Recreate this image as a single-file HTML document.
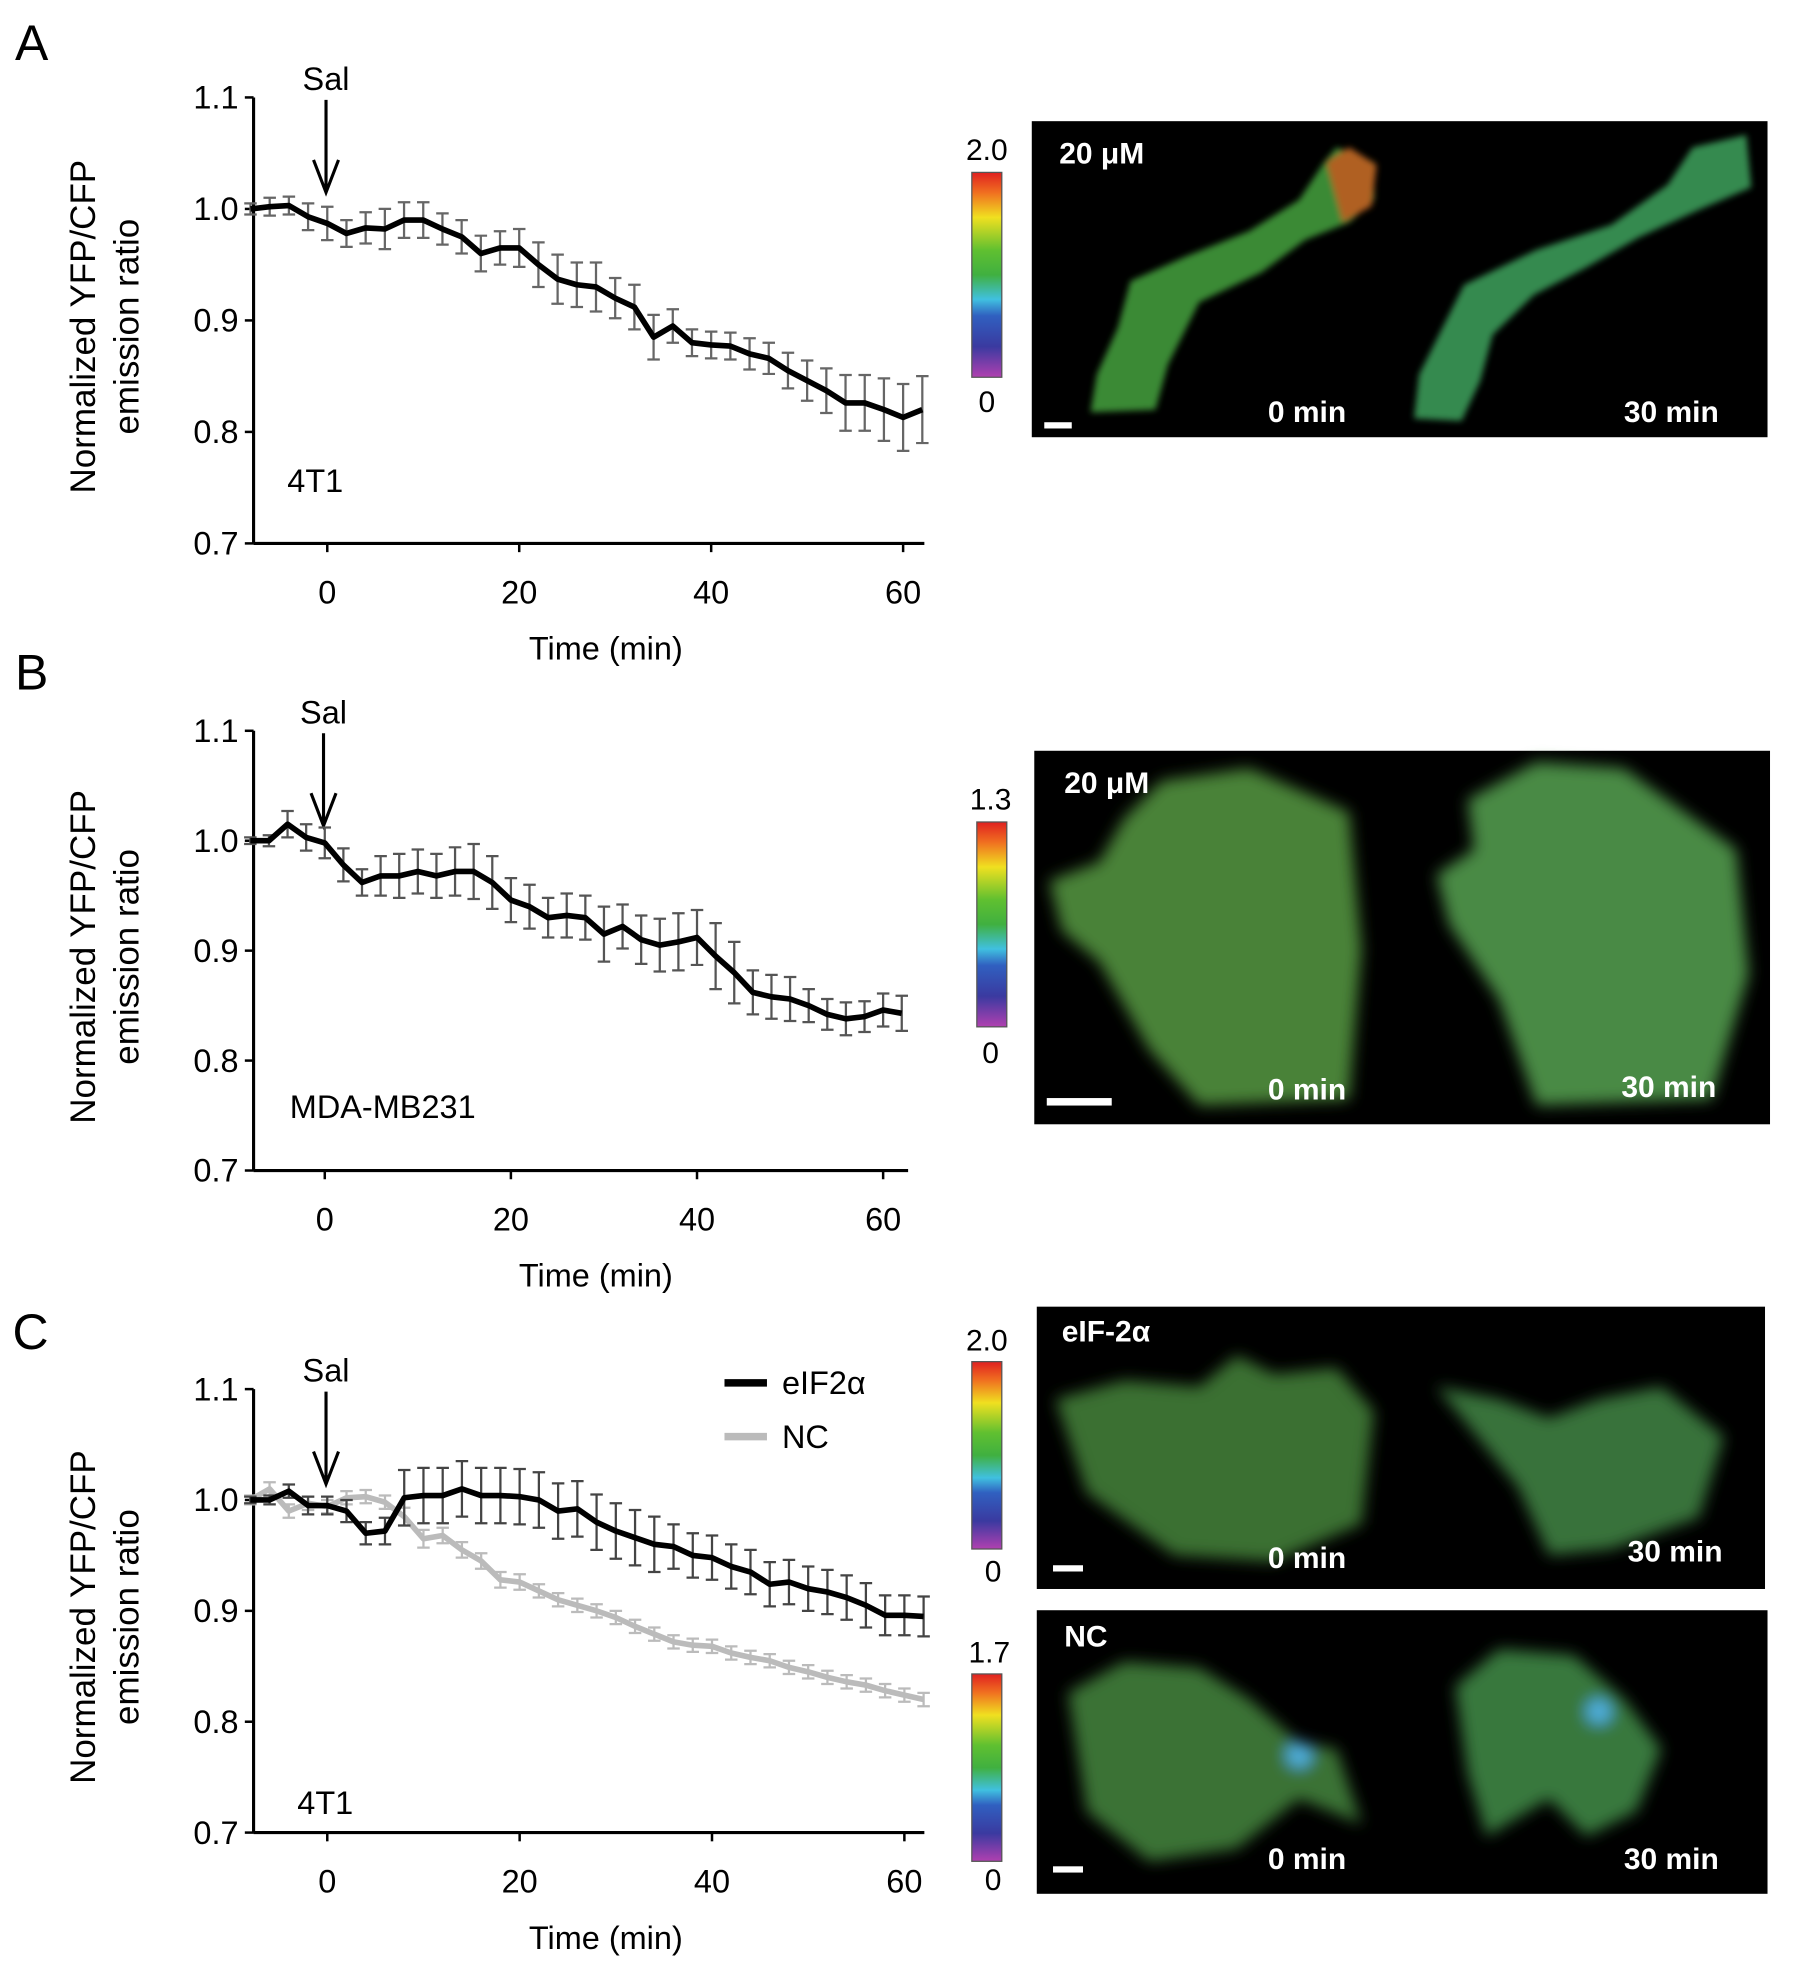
<!DOCTYPE html>
<html><head><meta charset="utf-8"><style>
html,body{margin:0;padding:0;background:#fff;}
svg{display:block;font-family:"Liberation Sans Narrow","Liberation Sans",sans-serif;}
.wt{fill:#fff;font-family:"Liberation Sans",sans-serif;font-weight:bold;}
</style></head><body>
<svg id="fig" width="1795" height="1970" viewBox="0 0 1437 1577" preserveAspectRatio="none" xmlns="http://www.w3.org/2000/svg">
<defs>
<linearGradient id="rb" x1="0" y1="1" x2="0" y2="0">
<stop offset="0" stop-color="#b040b0"/><stop offset="0.15" stop-color="#3a3aa0"/><stop offset="0.3" stop-color="#3060c0"/><stop offset="0.38" stop-color="#40c0e0"/><stop offset="0.5" stop-color="#40b040"/><stop offset="0.62" stop-color="#60c030"/><stop offset="0.78" stop-color="#f0e020"/><stop offset="0.9" stop-color="#f07020"/><stop offset="1" stop-color="#e02020"/>
</linearGradient>
<filter id="bl"><feGaussianBlur stdDeviation="2.5"/></filter>
<filter id="bl2"><feGaussianBlur stdDeviation="6"/></filter>
</defs>
<g id="charts"></g>
<g>
<rect x="826" y="97" width="589" height="253" fill="#000"/>
<g filter="url(#bl)">
<path d="M873,330 L878,300 L895,262 L905,225 L950,205 L1000,185 L1040,160 L1060,130 L1070,118 L1100,130 L1100,160 L1080,178 L1045,192 L1010,218 L960,242 L935,292 L925,328 Z" fill="#3b8a36"/>
<path d="M1062,130 L1080,118 L1102,132 L1098,165 L1075,178 Z" fill="#b06020"/>
<path d="M1132,335 L1136,300 L1155,262 L1172,228 L1230,200 L1290,180 L1335,148 L1355,118 L1398,108 L1402,150 L1360,168 L1312,190 L1270,214 L1228,236 L1195,268 L1185,305 L1170,337 Z" fill="#358a50"/>
</g>
<text class="wt" x="848" y="131" font-size="24">20 μM</text>
<text class="wt" x="1015" y="338" font-size="24">0 min</text>
<text class="wt" x="1300" y="338" font-size="24">30 min</text>
<rect x="836" y="338" width="22" height="5" fill="#fff"/>
<rect x="778" y="138" width="24" height="164" fill="url(#rb)" stroke="#555" stroke-width="1"/>
<text x="790" y="128" font-size="24" text-anchor="middle">2.0</text>
<text x="790" y="330" font-size="24" text-anchor="middle">0</text>
</g>
<g>
<rect x="828" y="601" width="589" height="299" fill="#000"/>
<g filter="url(#bl2)">
<path d="M840,705 L880,690 L900,655 L930,625 L1000,615 L1080,650 L1090,760 L1080,880 L960,885 L920,840 L880,770 L850,745 Z" fill="#4a8238"/>
<path d="M1150,700 L1180,680 L1175,640 L1230,610 L1300,615 L1390,680 L1400,780 L1370,880 L1230,885 L1200,800 L1160,740 Z" fill="#4a8a44"/>
</g>
<text class="wt" x="852" y="635" font-size="24">20 μM</text>
<text class="wt" x="1015" y="880" font-size="24">0 min</text>
<text class="wt" x="1298" y="878" font-size="24">30 min</text>
<rect x="838" y="879" width="52" height="6" fill="#fff"/>
<rect x="782" y="658" width="24" height="164" fill="url(#rb)" stroke="#555" stroke-width="1"/>
<text x="793" y="648" font-size="24" text-anchor="middle">1.3</text>
<text x="793" y="851" font-size="24" text-anchor="middle">0</text>
</g>
<g>
<rect x="830" y="1046" width="583" height="226" fill="#000"/>
<g filter="url(#bl2)">
<path d="M845,1120 L900,1105 L960,1110 L990,1085 L1020,1100 L1070,1095 L1100,1130 L1090,1220 L1020,1250 L940,1245 L870,1195 Z" fill="#3a7030"/>
<path d="M1150,1110 L1200,1120 L1240,1135 L1280,1120 L1330,1110 L1380,1150 L1360,1215 L1290,1240 L1240,1245 L1215,1190 Z" fill="#38723a"/>
</g>
<text class="wt" x="850" y="1074" font-size="24">eIF-2α</text>
<text class="wt" x="1015" y="1255" font-size="24">0 min</text>
<text class="wt" x="1303" y="1250" font-size="24">30 min</text>
<rect x="843" y="1253" width="24" height="5" fill="#fff"/>
<rect x="778" y="1090" width="24" height="150" fill="url(#rb)" stroke="#555" stroke-width="1"/>
<text x="790" y="1081" font-size="24" text-anchor="middle">2.0</text>
<text x="795" y="1266" font-size="24" text-anchor="middle">0</text>
</g>
<g>
<rect x="830" y="1289" width="585" height="227" fill="#000"/>
<g filter="url(#bl2)">
<path d="M855,1355 L900,1330 L960,1335 L1000,1360 L1040,1395 L1070,1400 L1090,1460 L1040,1440 L990,1480 L920,1490 L870,1450 Z" fill="#3a7234"/>
<path d="M1165,1350 L1200,1320 L1260,1325 L1300,1360 L1330,1400 L1310,1450 L1270,1470 L1240,1440 L1190,1470 L1175,1420 Z" fill="#38783c"/>
<circle cx="1040" cy="1405" r="10" fill="#50b0e0"/><circle cx="1280" cy="1370" r="10" fill="#50b0e0"/>
</g>
<text class="wt" x="852" y="1318" font-size="24">NC</text>
<text class="wt" x="1015" y="1496" font-size="24">0 min</text>
<text class="wt" x="1300" y="1496" font-size="24">30 min</text>
<rect x="843" y="1494" width="24" height="5" fill="#fff"/>
<rect x="778" y="1340" width="24" height="150" fill="url(#rb)" stroke="#555" stroke-width="1"/>
<text x="792" y="1331" font-size="24" text-anchor="middle">1.7</text>
<text x="795" y="1513" font-size="24" text-anchor="middle">0</text>
</g>
<text x="12" y="48" font-size="40" font-family="Liberation Sans">A</text>
<text x="12" y="552" font-size="40" font-family="Liberation Sans">B</text>
<text x="10" y="1080" font-size="40" font-family="Liberation Sans">C</text>
</svg>
<script>
const times = [-8,-6,-4,-2,0,2,4,6,8,10,12,14,16,18,20,22,24,26,28,30,32,34,36,38,40,42,44,46,48,50,52,54,56,58,60,62];
const xTicks = [0,20,40,60];
const yTicks = [0.7,0.8,0.9,1.0,1.1];
const yTickLabels = ["0.7","0.8","0.9","1.0","1.1"];
const seriesA = [1.0,1.002,1.003,0.993,0.987,0.978,0.983,0.982,0.99,0.99,0.982,0.975,0.96,0.965,0.965,0.95,0.937,0.932,0.93,0.92,0.912,0.885,0.895,0.88,0.878,0.877,0.87,0.866,0.855,0.846,0.837,0.826,0.826,0.82,0.813,0.82];
const errA = [0.005,0.008,0.008,0.012,0.015,0.012,0.014,0.018,0.016,0.016,0.014,0.015,0.016,0.015,0.017,0.02,0.022,0.02,0.022,0.018,0.02,0.02,0.015,0.012,0.012,0.012,0.014,0.014,0.016,0.018,0.02,0.025,0.025,0.028,0.03,0.03];
const seriesB = [1.0,1.0,1.015,1.003,0.998,0.978,0.962,0.968,0.968,0.972,0.968,0.972,0.972,0.962,0.946,0.94,0.93,0.932,0.93,0.915,0.922,0.91,0.905,0.908,0.912,0.895,0.88,0.862,0.858,0.856,0.85,0.842,0.838,0.84,0.846,0.843];
const errB = [0.003,0.005,0.012,0.012,0.014,0.015,0.012,0.018,0.02,0.02,0.02,0.022,0.025,0.024,0.02,0.02,0.018,0.02,0.02,0.025,0.02,0.022,0.024,0.026,0.025,0.03,0.028,0.02,0.02,0.02,0.015,0.014,0.015,0.014,0.015,0.016];
const seriesC1 = [1.0,1.0,1.008,0.995,0.995,0.99,0.97,0.972,1.002,1.004,1.004,1.01,1.004,1.004,1.003,1.0,0.99,0.992,0.98,0.972,0.966,0.96,0.958,0.95,0.948,0.94,0.935,0.924,0.926,0.92,0.917,0.912,0.905,0.896,0.896,0.895];
const errC1 = [0.003,0.004,0.006,0.008,0.008,0.01,0.01,0.012,0.025,0.025,0.025,0.025,0.025,0.025,0.025,0.025,0.025,0.025,0.025,0.025,0.025,0.025,0.02,0.02,0.02,0.02,0.02,0.02,0.02,0.02,0.02,0.02,0.02,0.018,0.018,0.018];
const seriesC2 = [1.0,1.01,0.99,0.997,0.994,1.002,1.003,0.998,0.985,0.965,0.968,0.955,0.945,0.928,0.926,0.918,0.91,0.905,0.9,0.894,0.886,0.879,0.872,0.869,0.868,0.862,0.858,0.855,0.849,0.845,0.84,0.836,0.833,0.828,0.824,0.82];
const errC2 = [0.004,0.006,0.006,0.006,0.006,0.006,0.006,0.006,0.008,0.008,0.007,0.007,0.007,0.007,0.007,0.006,0.006,0.006,0.006,0.006,0.006,0.006,0.006,0.006,0.006,0.006,0.006,0.006,0.006,0.006,0.006,0.006,0.006,0.006,0.006,0.006];

const NS='http://www.w3.org/2000/svg';
const root=document.getElementById('charts');
function mk(tag,attrs,parent){const e=document.createElementNS(NS,tag);for(const k in attrs)e.setAttribute(k,attrs[k]);parent.appendChild(e);return e;}

function drawChart(cfg){
  const g=mk('g',{},root);
  
  
  const xS=t=>cfg.x0+(t-0)*(cfg.x60-cfg.x0)/60;
  const yS=v=>cfg.y07+(v-0.7)*(cfg.y11-cfg.y07)/0.4;
  const ya=mk('line',{x1:cfg.ax,y1:cfg.y11,x2:cfg.ax,y2:cfg.y07,stroke:'#000','stroke-width':2.5},g);
  
  
  const xa=mk('line',{x1:cfg.ax,y1:cfg.y07,x2:cfg.xend,y2:cfg.y07,stroke:'#000','stroke-width':2.5},g);
  
  
  yTicks.forEach((v,i)=>{
    const y=yS(v);
    mk('line',{x1:cfg.ax-7,y1:y,x2:cfg.ax,y2:y,stroke:'#000','stroke-width':2},g);
    const t=mk('text',{x:cfg.ax-12,y:y+9,'font-size':26,'text-anchor':'end'},g);
    t.textContent=yTickLabels[i];
    
    
  });
  xTicks.forEach(v=>{
    const x=xS(v);
    mk('line',{x1:x,y1:cfg.y07,x2:x,y2:cfg.y07+7,stroke:'#000','stroke-width':2},g);
    const t=mk('text',{x:x,y:cfg.y07+48,'font-size':26,'text-anchor':'middle'},g);
    t.textContent=String(v);
    
    
  });
  const xt=mk('text',{x:cfg.timeX,y:cfg.y07+93,'font-size':26,'text-anchor':'middle'},g);
  xt.textContent='Time (min)';
  
  
  const ymid=(cfg.y11+cfg.y07)/2+5;
  const yt=mk('text',{transform:`translate(76,${ymid}) rotate(-90)`,'font-size':28,'text-anchor':'middle','font-family':'Liberation Sans'},g);
  yt.textContent='Normalized  YFP/CFP';
  
  
  const yt2=mk('text',{transform:`translate(111,${ymid}) rotate(-90)`,'font-size':28,'text-anchor':'middle','font-family':'Liberation Sans'},g);
  yt2.textContent='emission ratio';
  
  
  const sx=xS(0)-1;
  const st=mk('text',{x:sx,y:cfg.y11-6,'font-size':26,'text-anchor':'middle'},g);
  st.textContent='Sal';
  
  
  const ar=mk('path',{d:`M${sx},${cfg.y11+2} L${sx},${cfg.y11+76} M${sx-10},${cfg.y11+50} L${sx},${cfg.y11+76} L${sx+10},${cfg.y11+50}`,stroke:'#000','stroke-width':2.5,fill:'none'},g);
  
  
  const cl=mk('text',{x:cfg.cellX,y:cfg.cellY,'font-size':26,'text-anchor':'start'},g);
  cl.textContent=cfg.cell;
  
  
  cfg.series.forEach(s=>{
    const sg=mk('g',{},g);
    
    
    times.forEach((t,i)=>{
      const x=xS(t),y1=yS(s.vals[i]+s.err[i]),y2=yS(s.vals[i]-s.err[i]);
      const eb=mk('path',{d:`M${x},${y1} L${x},${y2} M${x-5},${y1} L${x+5},${y1} M${x-5},${y2} L${x+5},${y2}`,stroke:s.ecol,'stroke-width':1.8,fill:'none'},sg);
      
      
    });
    const d=times.map((t,i)=>(i?'L':'M')+xS(t)+','+yS(s.vals[i])).join(' ');
    const ln=mk('path',{d:d,stroke:s.col,'stroke-width':4.5,fill:'none','stroke-linejoin':'round'},sg);
    
    
  });
}
drawChart({name:'chart-a',ax:203,y11:78,y07:435,x0:262,x60:723,xend:740,timeX:485,cell:'4T1',cellX:230,cellY:394,
  series:[{name:'series-4t1',vals:seriesA,err:errA,col:'#000',ecol:'#666'}]});
drawChart({name:'chart-b',ax:203,y11:585,y07:937,x0:260,x60:707,xend:727,timeX:477,cell:'MDA-MB231',cellX:232,cellY:895,
  series:[{name:'series-mda',vals:seriesB,err:errB,col:'#000',ecol:'#555'}]});
drawChart({name:'chart-c',ax:203,y11:1112,y07:1467,x0:262,x60:724,xend:740,timeX:485,cell:'4T1',cellX:238,cellY:1452,
  series:[{name:'series-nc',vals:seriesC2,err:errC2,col:'#bbb',ecol:'#bbb'},{name:'series-eif2a',vals:seriesC1,err:errC1,col:'#000',ecol:'#444'}]});
const lg=mk('g',{},root);


mk('line',{x1:580,y1:1107,x2:614,y2:1107,stroke:'#000','stroke-width':6},lg);
const l1=mk('text',{x:626,y:1116,'font-size':26},lg);l1.textContent='eIF2α';


mk('line',{x1:580,y1:1150,x2:614,y2:1150,stroke:'#bbb','stroke-width':6},lg);
const l2=mk('text',{x:626,y:1159,'font-size':26},lg);l2.textContent='NC';


</script>
</body></html>
